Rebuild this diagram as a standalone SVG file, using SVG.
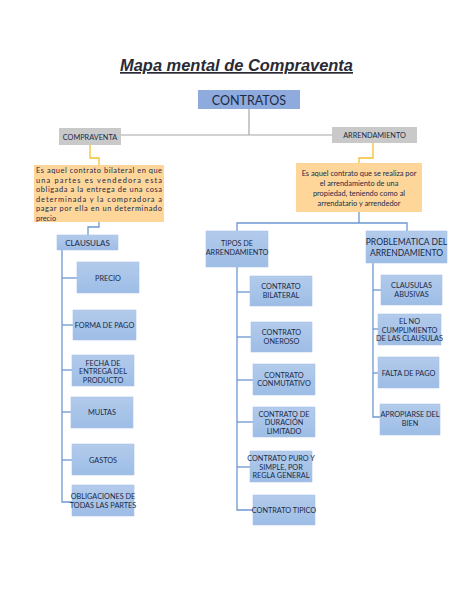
<svg xmlns="http://www.w3.org/2000/svg" width="474" height="613" viewBox="0 0 474 613">
<defs>
<linearGradient id="bg" x1="0" y1="0" x2="0" y2="1">
<stop offset="0" stop-color="#B3CBEB"/><stop offset="1" stop-color="#9DBDE6"/>
</linearGradient>
<style>
.t{font-family:Lato,"Open Sans","Liberation Sans",sans-serif;fill:#1B2A47;text-anchor:middle}
.s{font-size:7.3px}
.box{fill:url(#bg);stroke:#A9C4E8;stroke-width:0.6}
.c{fill:none;stroke:#6C97D2;stroke-width:1.3}
.g{fill:none;stroke:#A6A6A6;stroke-width:1.2}
.y{fill:none;stroke:#F2C12E;stroke-width:1.3}
.def{fill:#FFD699}
</style>
</defs>
<rect width="474" height="613" fill="#FFFFFF"/>
<text x="236.5" y="71" style="font-family:'Liberation Sans',Arial,sans-serif;font-size:17px;font-weight:bold;font-style:italic;fill:#2A2A35;text-anchor:middle;text-decoration:underline" textLength="233" lengthAdjust="spacingAndGlyphs">Mapa mental de Compraventa</text>

<g id="connectors">
<polyline class="g" points="249,109 249,135"/>
<polyline class="g" points="121,135 332,135"/>
<polyline class="y" points="90,145 90,158 99,158 99,165"/>
<polyline class="y" points="373,143 373,158 359,158 359,163"/>
<polyline class="c" points="99,222 99,227 88,227 88,235"/>
<polyline class="c" points="359,212 359,223"/>
<polyline class="c" points="237,231 237,223 407,223 407,231"/>
<polyline class="c" points="62,250 62,502 72,502"/>
<line class="c" x1="62" y1="278" x2="77" y2="278"/>
<line class="c" x1="62" y1="325" x2="73" y2="325"/>
<line class="c" x1="62" y1="370" x2="72" y2="370"/>
<line class="c" x1="62" y1="412" x2="71" y2="412"/>
<line class="c" x1="62" y1="460" x2="72" y2="460"/>
<polyline class="c" points="237,267 237,510 253,510"/>
<line class="c" x1="237" y1="292" x2="250" y2="292"/>
<line class="c" x1="237" y1="337" x2="251" y2="337"/>
<line class="c" x1="237" y1="380" x2="253" y2="380"/>
<line class="c" x1="237" y1="422" x2="253" y2="422"/>
<line class="c" x1="237" y1="467" x2="250" y2="467"/>
<polyline class="c" points="373,263 373,417 380,417"/>
<line class="c" x1="373" y1="290" x2="381" y2="290"/>
<line class="c" x1="373" y1="329" x2="378" y2="329"/>
<line class="c" x1="373" y1="373" x2="378" y2="373"/>
</g>

<g id="contratos">
<rect x="198" y="90" width="102" height="19" fill="#8FAADC"/>
<text class="t" x="249" y="104.5" style="font-size:12.5px">CONTRATOS</text>
</g>
<g id="compraventa">
<rect x="59" y="128" width="62" height="17" fill="#C9C9C9"/>
<text class="t s" x="90" y="139.5">COMPRAVENTA</text>
</g>
<g id="arrendamiento">
<rect x="332" y="127" width="85" height="16" fill="#C9C9C9"/>
<text class="t s" x="374.5" y="138">ARRENDAMIENTO</text>
</g>

<g id="def-compraventa">
<rect class="def" x="34" y="165" width="130" height="57"/>
<g class="t" style="font-size:7.4px;text-anchor:start">
<text x="36" y="173" textLength="126" lengthAdjust="spacing">Es aquel contrato bilateral en que</text>
<text x="36" y="182.5" textLength="126" lengthAdjust="spacing">una partes es vendedora esta</text>
<text x="36" y="192" textLength="126" lengthAdjust="spacing">obligada a la entrega de una cosa</text>
<text x="36" y="201.5" textLength="126" lengthAdjust="spacing">determinada y la compradora a</text>
<text x="36" y="211" textLength="126" lengthAdjust="spacing">pagar por ella en un determinado</text>
<text x="36" y="220.5">precio</text>
</g>
</g>

<g id="def-arrendamiento">
<rect class="def" x="296" y="163" width="126" height="49"/>
<g class="t" style="font-size:7.4px">
<text x="359" y="176">Es aquel contrato que se realiza por</text>
<text x="359" y="186">el arrendamiento de una</text>
<text x="359" y="196">propiedad, teniendo como al</text>
<text x="359" y="206">arrendatario y arrendedor</text>
</g>
</g>

<g id="clausulas">
<rect class="box" x="57" y="235" width="61" height="15"/>
<text class="t" x="87.5" y="245.5" style="font-size:8px">CLAUSULAS</text>
</g>
<g id="precio"><rect class="box" x="77" y="262" width="62" height="31"/><text class="t s" x="108" y="280.5">PRECIO</text></g>
<g id="forma-pago"><rect class="box" x="73" y="310" width="63" height="30"/><text class="t s" x="104.5" y="327.5">FORMA DE PAGO</text></g>
<g id="fecha"><rect class="box" x="72" y="355" width="62" height="31"/><text class="t s" x="103" y="365.5">FECHA DE</text><text class="t s" x="103" y="374">ENTREGA DEL</text><text class="t s" x="103" y="382.5">PRODUCTO</text></g>
<g id="multas"><rect class="box" x="71" y="397" width="62" height="31"/><text class="t s" x="102" y="415">MULTAS</text></g>
<g id="gastos"><rect class="box" x="72" y="444" width="62" height="31"/><text class="t s" x="103" y="462.5">GASTOS</text></g>
<g id="obligaciones"><rect class="box" x="72" y="485" width="62" height="31"/><text class="t s" x="103" y="499">OBLIGACIONES DE</text><text class="t s" x="103" y="507.5">TODAS LAS PARTES</text></g>

<g id="tipos"><rect class="box" x="206" y="231" width="62" height="36"/><text class="t s" x="237" y="246">TIPOS DE</text><text class="t s" x="237" y="255">ARRENDAMIENTO</text></g>
<g id="bilateral"><rect class="box" x="250" y="276" width="62" height="30"/><text class="t s" x="281" y="289">CONTRATO</text><text class="t s" x="281" y="297.5">BILATERAL</text></g>
<g id="oneroso"><rect class="box" x="251" y="322" width="61" height="30"/><text class="t s" x="281.5" y="335">CONTRATO</text><text class="t s" x="281.5" y="343.5">ONEROSO</text></g>
<g id="conmutativo"><rect class="box" x="253" y="364" width="62" height="31"/><text class="t s" x="284" y="377.5">CONTRATO</text><text class="t s" x="284" y="386">CONMUTATIVO</text></g>
<g id="duracion"><rect class="box" x="253" y="407" width="62" height="30"/><text class="t s" x="284" y="416.5">CONTRATO DE</text><text class="t s" x="284" y="425">DURACIÓN</text><text class="t s" x="284" y="433.5">LIMITADO</text></g>
<g id="puro"><rect class="box" x="250" y="451" width="62" height="31"/><text class="t s" x="281" y="461">CONTRATO PURO Y</text><text class="t s" x="281" y="469.5">SIMPLE, POR</text><text class="t s" x="281" y="478">REGLA GENERAL</text></g>
<g id="tipico"><rect class="box" x="253" y="495" width="62" height="30"/><text class="t s" x="284" y="512.5">CONTRATO TIPICO</text></g>

<g id="problematica"><rect class="box" x="366" y="231" width="81" height="32"/><text class="t" x="406.5" y="245" style="font-size:8.5px">PROBLEMATICA DEL</text><text class="t" x="406.5" y="256" style="font-size:8.5px">ARRENDAMIENTO</text></g>
<g id="abusivas"><rect class="box" x="381" y="275" width="61" height="30"/><text class="t s" x="411.5" y="288">CLAUSULAS</text><text class="t s" x="411.5" y="296.5">ABUSIVAS</text></g>
<g id="cumplimiento"><rect class="box" x="378" y="314" width="63" height="31"/><text class="t s" x="409.5" y="324">EL NO</text><text class="t s" x="409.5" y="332.5">CUMPLIMIENTO</text><text class="t s" x="409.5" y="341">DE LAS CLAUSULAS</text></g>
<g id="falta"><rect class="box" x="378" y="357" width="61" height="31"/><text class="t s" x="408.5" y="375.5">FALTA DE PAGO</text></g>
<g id="apropiarse"><rect class="box" x="380" y="404" width="60" height="31"/><text class="t s" x="410" y="417">APROPIARSE DEL</text><text class="t s" x="410" y="425.5">BIEN</text></g>
</svg>
